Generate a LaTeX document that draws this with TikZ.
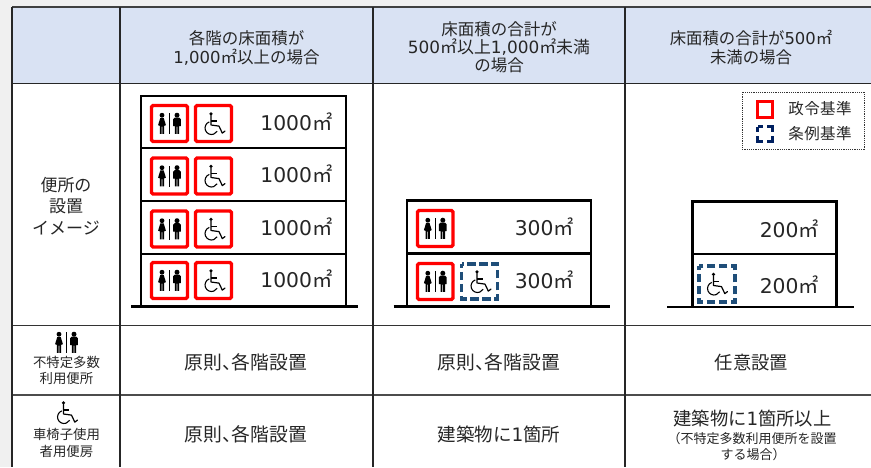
\documentclass[tikz,border=0pt]{standalone}
\usepackage{fontspec}
\newfontfamily\jpf{Noto Sans CJK JP}
\newfontfamily\jpp[RawFeature=+palt]{Noto Sans CJK JP}
\newfontfamily\latf{DejaVu Sans}
\newcommand{\dg}[1]{{\latf #1}}
\newcommand{\tc}{{\jpp 、}}
\newcommand{\fsz}[1]{\fontsize{#1}{#1}\selectfont}
\definecolor{ink}{HTML}{262626}
\definecolor{hdr}{HTML}{D9E2F3}
\definecolor{bggray}{HTML}{F0F0F0}
\definecolor{teal}{HTML}{1F4E79}
\definecolor{navy}{HTML}{002060}
\definecolor{redbox}{HTML}{FF0000}
\tikzset{
  txt/.style={inner sep=0pt,text=ink,font=\jpf\fsz{#1},text height=#1*0.8pt,text depth=#1*0.2pt,yshift=-1.3pt},
  grid/.style={draw=black!85,line width=1.5pt},
  bld/.style={draw=black,line width=2.4pt,line cap=rect},
  ground/.style={draw=black,line width=2.6pt},
  redb/.style={draw=redbox,line width=3.4pt,rounded corners=1.5pt,fill=white},
  tealb/.style={draw=teal,line width=3.2pt,dash pattern=on 8.5pt off 3.5pt,dash phase=4.25pt,fill=white},
  toilets/.pic={
    \fill[black] (-7.5,-8.3) circle (2.4);
    \fill[black] (-9.2,-5.6) -- (-5.8,-5.6) -- (-3.6,1.6) -- (-5.4,2.4) -- (-5.4,10.4) -- (-7.1,10.4) -- (-7.1,3) -- (-7.9,3) -- (-7.9,10.4) -- (-9.6,10.4) -- (-9.6,2.4) -- (-11.4,1.6) -- cycle;
    \fill[black] (-0.6,-10.5) rectangle (0.6,10.5);
    \fill[black] (7.5,-8.3) circle (2.5);
    \fill[black] (3.6,-4.2) arc (-180:-90:1.6) -- (9.8,-5.8) arc (-90:0:1.6) -- (11.4,2.6) -- (9.7,2.6) -- (9.7,10.4) -- (7.9,10.4) -- (7.9,3) -- (7.1,3) -- (7.1,10.4) -- (5.3,10.4) -- (5.3,2.6) -- (3.6,2.6) -- cycle;
  },
  wheelicon/.pic={
    \fill[black] (-2.5,-9.6) circle (1.8);
    \draw[black,line width=1.2pt,line join=round,line cap=round] (-2.5,-8) -- (-2.5,1.5) -- (5.5,2.6) -- (8.8,9.6) -- (11.5,7.6);
    \draw[black,line width=1.2pt] (-2.5,-2.6) -- (3.2,-2.6);
    \draw[black,line width=1.1pt] (-4.2,-1.6) arc (-110:-330:6.5);
  }
}
\begin{document}
\begin{tikzpicture}[x=1pt,y=-1pt]
\useasboundingbox (0,0) rectangle (871,467);
\fill[bggray] (0,0) rectangle (871,467);
\fill[white] (12,7) rectangle (871,467);
\fill[hdr] (12,7) rectangle (871,83.5);
% grid
\draw[draw=black!75,line width=1.6pt] (12,7) -- (871,7);
\draw[grid,line width=1.2pt] (12,83.5) -- (871,83.5);
\draw[draw=black!80,line width=1.4pt] (12,325.5) -- (871,325.5);
\draw[draw=black!70,line width=1.8pt] (12,395) -- (871,395);
\foreach \xx in {12,120,373,625} \draw[draw=black!85,line width=1.3pt] (\xx,7) -- (\xx,467);

% headers
\node[txt=16.5] (h1a) at (246.5,38) {各階の床面積が};
\node[txt=16.5] (h1b) at (246.5,57) {\dg{1,000}㎡以上の場合};
\node[txt=16.5] (h2a) at (499,29) {床面積の合計が};
\node[txt=16.9] (h2b) at (499,47) {\dg{500}㎡以上\dg{1,000}㎡未満};
\node[txt=16.5] (h2c) at (499,65) {の場合};
\node[txt=16.4] (h3a) at (751,38) {床面積の合計が\dg{500}㎡};
\node[txt=16.4] (h3b) at (751,57) {未満の場合};

% left column
\node[txt=17] (l1) at (66,185) {便所の};
\node[txt=17] (l2) at (66,206) {設置};
\node[txt=17] (l3) at (66,228) {イメージ};
\pic at (66.5,342.5) {toilets};
\node[txt=13.4] (l4) at (66.5,362) {不特定多数};
\node[txt=13.4] (l5) at (66.5,378.5) {利用便所};
\pic at (66,412.5) {wheelicon};
\node[txt=13.4] (l6) at (66.5,434) {車椅子使用};
\node[txt=13.4] (l7) at (66.5,451) {者用便房};

% building 1
\draw[bld] (141,306) -- (141,96) -- (346,96) -- (346,306);
\foreach \yy in {148,201,254} \draw[bld,line cap=butt] (141,\yy) -- (346,\yy);
\draw[ground] (131,306.5) -- (358,306.5);
\foreach \yy/\nm in {123.5/a,176/b,229/c,280.5/d}{
  \draw[redb] (151.5,\yy-18) rectangle (187.5,\yy+18);
  \draw[redb] (195.5,\yy-18) rectangle (231.5,\yy+18);
  \pic at (169.5,\yy) {toilets};
  \pic at (213.5,\yy) {wheelicon};
  \node[txt=20.3,anchor=east] (f\nm) at (332.5,\yy-0.5) {\dg{1000}㎡};
}

% building 2
\draw[bld] (407,306) -- (407,200.5) -- (591,200.5) -- (591,306);
\draw[bld,line cap=butt] (407,253.5) -- (591,253.5);
\draw[ground] (393.5,306.5) -- (610,306.5);
\draw[redb] (417.5,210.5) rectangle (453,246.5);
\draw[redb] (417.5,263.5) rectangle (453,299.5);
\pic at (435.3,228.5) {toilets};
\pic at (435.3,281.5) {toilets};
\draw[tealb] (461.5,264) rectangle (497.5,299);
\pic at (479.5,281.5) {wheelicon};
\node[txt=20.3,anchor=east] (g1) at (574,228.5) {\dg{300}㎡};
\node[txt=20.3,anchor=east] (g2) at (574,281.5) {\dg{300}㎡};

% building 3
\draw[bld] (692.5,306) -- (692.5,201.5) -- (836.5,201.5) -- (836.5,306);
\draw[bld,line cap=butt] (692.5,254) -- (836.5,254);
\draw[ground] (667,307) -- (854,307);
\draw[tealb] (699,266) rectangle (735,302);
\pic at (716,284) {wheelicon};
\node[txt=20.3,anchor=east] (k1) at (819,230) {\dg{200}㎡};
\node[txt=20.3,anchor=east] (k2) at (819,286) {\dg{200}㎡};

% legend
\draw[draw=black!80,line width=0.7pt,dash pattern=on 1.2pt off 1pt,fill=white] (742,92) rectangle (864,149);
\draw[draw=redbox,line width=2.6pt] (757.5,101.5) rectangle (772.5,117.5);
\draw[draw=navy,line width=2.6pt,dash pattern=on 10.5pt off 4.5pt,dash phase=5.25pt] (757.5,126.5) rectangle (772.5,141.5);
\node[txt=15.5] (lg1) at (820,109) {\addfontfeature{LetterSpace=3}政令基準};
\node[txt=15.5] (lg2) at (820,134) {\addfontfeature{LetterSpace=3}条例基準};

% row 1
\node[txt=18.8] (r1a) at (246,362.5) {原則\tc 各階設置};
\node[txt=18.8] (r1b) at (499,362.5) {原則\tc 各階設置};
\node[txt=18.3] (r1c) at (751.5,363) {任意設置};
% row 2
\node[txt=18.8] (r2a) at (246,435) {原則\tc 各階設置};
\node[txt=18.5] (r2b) at (499,435) {建築物に\dg{1}箇所};
\node[txt=18.3] (r2c) at (752.5,419) {建築物に\dg{1}箇所以上};
\node[txt=13] (r2d) at (752,438) {（不特定多数利用便所を設置};
\node[txt=13] (r2e) at (753,454) {する場合）};
\end{tikzpicture}
\end{document}
